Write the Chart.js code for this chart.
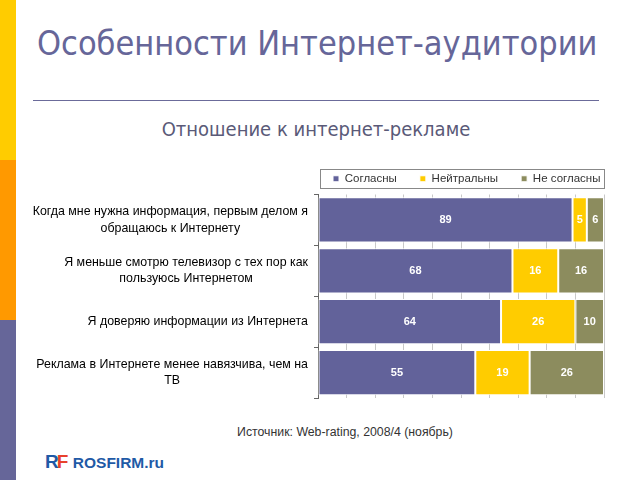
<!DOCTYPE html>
<html>
<head>
<meta charset="utf-8">
<script src="https://cdn.jsdelivr.net/npm/chart.js@4/dist/chart.umd.min.js"></script>
<style>
  html, body { margin: 0; padding: 0; background: #fff; }
  body { width: 640px; height: 480px; position: relative; overflow: hidden; font-family: "Liberation Sans", Arial, sans-serif; }
  .strip { position: absolute; left: 0; width: 16px; }
  #title { position: absolute; left: 37px; top: 23px; font-family: "DejaVu Sans Condensed", "DejaVu Sans", sans-serif; font-stretch: condensed; font-size: 34px; color: #666699; white-space: nowrap; }
  #rule { position: absolute; left: 33px; top: 100px; width: 566px; height: 1px; background: #6b6b9a; }
  #subtitle { position: absolute; left: 0; width: 632px; top: 117px; text-align: center; font-family: "DejaVu Sans Condensed", "DejaVu Sans", sans-serif; font-stretch: condensed; font-size: 20px; color: #5a5a78; }
  #source { position: absolute; left: 0; width: 690px; top: 425px; text-align: center; font-size: 12.3px; color: #333; }
  #logo { position: absolute; left: 45px; top: 451px; font-family: "Liberation Sans", Arial, sans-serif; font-weight: bold; white-space: nowrap; }
  #wrap { position: absolute; left: 0; top: 144px; width: 640px; height: 266px; }
</style>
</head>
<body>
<div class="strip" style="top:0;height:160px;background:#ffcc00"></div>
<div class="strip" style="top:160px;height:160px;background:#ff9900"></div>
<div class="strip" style="top:320px;height:160px;background:#666699"></div>
<div id="title">Особенности Интернет-аудитории</div>
<div id="rule"></div>
<div id="subtitle">Отношение к интернет-рекламе</div>
<div id="wrap"><canvas id="c"></canvas></div>
<div id="source">Источник: Web-rating, 2008/4 (ноябрь)</div>
<div id="logo"><span style="color:#1f5aa6;font-size:19px;letter-spacing:-2px">R</span><span style="color:#e8412c;font-size:19px">F</span> <span style="color:#1f5aa6;font-size:15.5px">ROSFIRM.ru</span></div>
<script>
const categories = [
  ["Когда мне нужна информация, первым делом я", "обращаюсь к Интернету"],
  ["Я меньше смотрю телевизор с тех пор как", "пользуюсь Интернетом"],
  ["Я доверяю информации из Интернета"],
  ["Реклама в Интернете менее навязчива, чем на", "ТВ"]
];
const seriesNames = ["Согласны", "Нейтральны", "Не согласны"];
const agree = [89, 68, 64, 55];
const neutral = [5, 16, 26, 19];
const disagree = [6, 16, 10, 26];
const xTicks = [0, 10, 20, 30, 40, 50, 60, 70, 80, 90, 100];

const labelFont = "12.4px 'Liberation Sans', Arial, sans-serif";
const legendPad = 23;

const catLabelPlugin = {
  id: 'catLabels',
  afterDraw(chart) {
    const ctx = chart.ctx;
    const ys = chart.scales.y;
    const rightEdge = chart.chartArea.left - 10;
    ctx.save();
    ctx.font = labelFont;
    ctx.fillStyle = '#000';
    ctx.textAlign = 'center';
    ctx.textBaseline = 'middle';
    const lh = 16.5;
    categories.forEach((lines, i) => {
      const yc = ys.getPixelForValue(i);
      let w = 0;
      lines.forEach(l => { w = Math.max(w, ctx.measureText(l).width); });
      const cx = rightEdge - w / 2;
      const y0 = yc - (lines.length - 1) * lh / 2;
      lines.forEach((l, k) => ctx.fillText(l, cx, y0 + k * lh));
    });
    ctx.restore();
  }
};

const valueLabelPlugin = {
  id: 'valueLabels',
  afterDatasetsDraw(chart) {
    const ctx = chart.ctx;
    ctx.save();
    ctx.font = "bold 11px 'Liberation Sans', Arial, sans-serif";
    ctx.fillStyle = '#fff';
    ctx.textAlign = 'center';
    ctx.textBaseline = 'middle';
    chart.data.datasets.forEach((ds, di) => {
      const meta = chart.getDatasetMeta(di);
      meta.data.forEach((el, i) => {
        const p = el.getCenterPoint();
        ctx.fillText(String(ds.data[i]), p.x, p.y);
      });
    });
    ctx.restore();
  }
};

// place the legend row inside the plot width (starting near plot's left edge)
const legendShiftPlugin = {
  id: 'legendShift',
  afterLayout(chart) {
    const lg = chart.legend;
    if (!lg) return;
    lg.left = chart.chartArea.left + 15 - legendPad;
    lg.right = chart.width;
  }
};

const legendBoxPlugin = {
  id: 'legendBox',
  afterDraw(chart) {
    const lg = chart.legend;
    if (!lg || !lg.legendHitBoxes || !lg.legendHitBoxes.length) return;
    const hb = lg.legendHitBoxes[0];
    const ctx = chart.ctx;
    ctx.save();
    ctx.strokeStyle = '#888';
    ctx.lineWidth = 1;
    const top = Math.round(hb.top - 4) + 0.5;
    const bot = Math.round(hb.top + hb.height + 3) + 0.5;
    ctx.strokeRect(Math.round(chart.chartArea.left + 2) + 0.5, top, Math.round(chart.chartArea.right - chart.chartArea.left - 2), bot - top);
    ctx.restore();
  }
};

new Chart(document.getElementById('c'), {
  type: 'bar',
  data: {
    labels: categories,
    datasets: [
      { label: seriesNames[0], data: agree, backgroundColor: '#62629a', borderColor: '#ffffff', borderWidth: 1, borderSkipped: false },
      { label: seriesNames[1], data: neutral, backgroundColor: '#ffcc00', borderColor: '#ffffff', borderWidth: 1, borderSkipped: false },
      { label: seriesNames[2], data: disagree, backgroundColor: '#8c8c5e', borderColor: '#ffffff', borderWidth: 1, borderSkipped: false }
    ]
  },
  options: {
    indexAxis: 'y',
    responsive: true,
    maintainAspectRatio: false,
    animation: false,
    layout: { padding: { left: 0, right: 36, top: 6, bottom: 12 } },
    datasets: { bar: { barPercentage: 0.89, categoryPercentage: 1.0 } },
    scales: {
      x: {
        stacked: true, min: 0, max: 100,
        afterBuildTicks: (s) => { s.ticks = xTicks.map(v => ({ value: v })); },
        ticks: { display: false },
        grid: { color: '#c8c8c8', drawTicks: false, lineWidth: 1 },
        border: { display: false }
      },
      y: {
        stacked: true,
        afterFit: (s) => { s.width = 318; },
        ticks: { display: false },
        grid: { offset: true, drawOnChartArea: false, drawTicks: true, tickLength: 4, color: '#666' },
        border: { display: true, color: '#666' }
      }
    },
    plugins: {
      legend: {
        position: 'top',
        align: 'start',
        labels: {
          boxWidth: 6, boxHeight: 6, padding: legendPad, color: '#333',
          font: { family: "'Liberation Sans', Arial, sans-serif", size: 11.5 }
        }
      },
      tooltip: { enabled: false }
    }
  },
  plugins: [legendShiftPlugin, catLabelPlugin, valueLabelPlugin, legendBoxPlugin]
});
</script>
</body>
</html>
